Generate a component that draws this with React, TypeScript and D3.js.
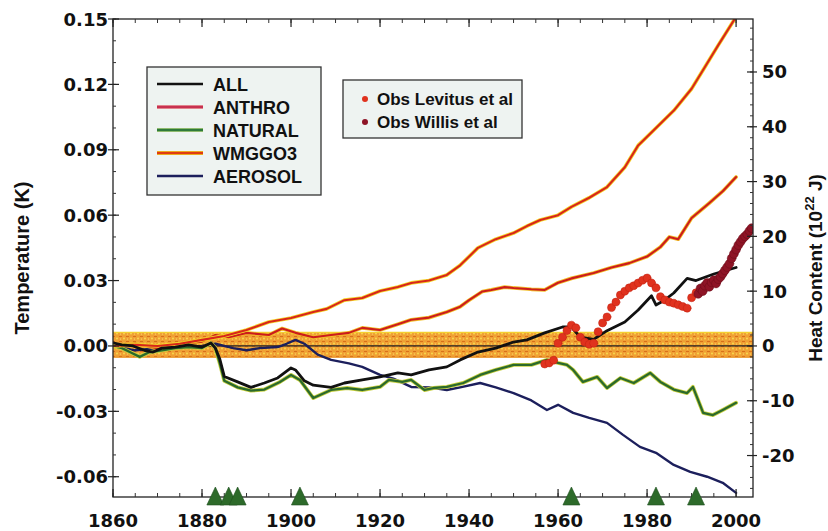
import React from "react";
import * as d3 from "d3";

const W = 828;
const H = 531;

// ---- axes data ----
const xDomain: [number, number] = [1860, 2003.8];
const tempDomain: [number, number] = [-0.0693, 0.15];
const heatPerK = 397.8;
const xTickYears = [1860, 1880, 1900, 1920, 1940, 1960, 1980, 2000];
const xTickLabels = ["1860", "1880", "1900", "1920", "1940", "1960", "1980", "2000"];
const tempTicks = [-0.06, -0.03, 0, 0.03, 0.06, 0.09, 0.12, 0.15];
const tempTickLabels = ["-0.06", "-0.03", "0.00", "0.03", "0.06", "0.09", "0.12", "0.15"];
const heatTicks = [-20, -10, 0, 10, 20, 30, 40, 50];
const heatTickLabels = ["-20", "-10", "0", "10", "20", "30", "40", "50"];
const volcanoYears = [1883, 1886, 1888, 1902, 1963, 1982, 1991];
const bandRange: [number, number] = [-0.0052, 0.0062];

// ---- model series (temperature, K) ----
const allData: [number, number][] = [
  [1860, 0.0014], [1862, 0.0005], [1864.5, 0.0], [1867, -0.002], [1869, -0.0028], [1871, -0.001],
  [1874, -0.0005], [1877, 0.0005], [1880, -0.0005], [1882, 0.0014], [1883, -0.001], [1884, -0.006],
  [1885, -0.014], [1888, -0.0165], [1891, -0.019], [1894, -0.017], [1897, -0.0147], [1900, -0.0101],
  [1901, -0.011], [1903, -0.016], [1905, -0.018], [1909, -0.019], [1912, -0.017], [1916, -0.0156],
  [1920, -0.0142], [1924, -0.0124], [1927, -0.0133], [1931, -0.011], [1935, -0.0096], [1938, -0.0064],
  [1942, -0.0028], [1946, -0.001], [1950, 0.0018], [1953, 0.0028], [1957, 0.006], [1961, 0.0087],
  [1963, 0.0087], [1965, 0.004], [1968, 0.003], [1971, 0.007], [1975, 0.011], [1978, 0.0165],
  [1981, 0.023], [1982, 0.0188], [1984, 0.0211], [1986, 0.0243], [1989, 0.031], [1991, 0.030],
  [1995, 0.033], [2000, 0.036],
];
const anthroData: [number, number][] = [
  [1860, 0.0], [1865, 0.001], [1870, -0.001], [1875, 0.001], [1880, 0.002], [1883, 0.005],
  [1886, 0.004], [1890, 0.006], [1895, 0.005], [1898, 0.008], [1901, 0.006], [1905, 0.004],
  [1909, 0.005], [1913, 0.006], [1916, 0.0083], [1920, 0.0073], [1924, 0.010], [1927, 0.012],
  [1931, 0.013], [1935, 0.0156], [1938, 0.018], [1940, 0.021], [1943, 0.025], [1945, 0.0257],
  [1948, 0.027], [1950, 0.0266], [1954, 0.026], [1957, 0.0257], [1960, 0.029], [1963, 0.031],
  [1968, 0.0335], [1972, 0.036], [1976, 0.038], [1980, 0.041], [1983, 0.0454], [1985, 0.050],
  [1987, 0.049], [1990, 0.0587], [1994, 0.0656], [1997, 0.071], [2000, 0.0775],
];
const naturalData: [number, number][] = [
  [1860, 0.0], [1862, -0.001], [1864, -0.003], [1866, -0.005], [1868, -0.003], [1871, -0.002],
  [1874, -0.001], [1877, -0.0005], [1880, -0.001], [1882, 0.0014], [1883, -0.001], [1884, -0.008],
  [1885, -0.016], [1888, -0.019], [1891, -0.0205], [1894, -0.020], [1897.5, -0.0165], [1900, -0.0133],
  [1902, -0.0156], [1905, -0.0239], [1909, -0.0202], [1912.6, -0.0193], [1916, -0.0202], [1920, -0.0188],
  [1922, -0.0156], [1925, -0.0165], [1927, -0.0156], [1930, -0.0202], [1932, -0.0193], [1935, -0.0188],
  [1938.7, -0.017], [1942.5, -0.0133], [1946, -0.011], [1950, -0.0087], [1954, -0.0087], [1957.5, -0.0064],
  [1960, -0.0078], [1962, -0.0087], [1963.4, -0.011], [1965.6, -0.0165], [1968.8, -0.0142], [1971, -0.0193],
  [1974, -0.0147], [1977, -0.017], [1980.7, -0.0124], [1983, -0.0165], [1986, -0.020], [1989, -0.0216],
  [1990.3, -0.0188], [1992.6, -0.0307], [1994.8, -0.0317], [1997, -0.0294], [2000, -0.0261],
];
const wmggo3Data: [number, number][] = [
  [1860, 0.0], [1865, 0.0005], [1870, 0.0], [1875, 0.001], [1880, 0.0028], [1885, 0.0046],
  [1890, 0.0073], [1895, 0.011], [1900, 0.0128], [1905, 0.0156], [1908, 0.017], [1912, 0.021],
  [1916, 0.022], [1920, 0.0252], [1924, 0.027], [1927, 0.0289], [1931, 0.030], [1935, 0.0326],
  [1938, 0.037], [1942, 0.045], [1946, 0.049], [1950, 0.0518], [1953, 0.055], [1956, 0.0578],
  [1960, 0.060], [1963, 0.0638], [1967, 0.068], [1971, 0.0729], [1975, 0.082], [1978, 0.092],
  [1982, 0.100], [1986, 0.108], [1990, 0.118], [1993, 0.128], [1996, 0.138], [2000, 0.151],
];
const aerosolData: [number, number][] = [
  [1860, 0.0], [1865, -0.002], [1870, -0.001], [1875, -0.001], [1880, 0.0], [1883, 0.001],
  [1887, -0.001], [1890, -0.002], [1893, -0.001], [1897, -0.0005], [1899, 0.001], [1901, 0.0028],
  [1903, 0.001], [1906, -0.004], [1909, -0.0064], [1913, -0.008], [1916, -0.0096], [1920, -0.0133],
  [1923, -0.015], [1927, -0.0188], [1931, -0.019], [1935, -0.0202], [1938, -0.019], [1942.5, -0.017],
  [1946, -0.019], [1950, -0.0216], [1954, -0.025], [1957.5, -0.0294], [1960, -0.027], [1963.4, -0.0307],
  [1967, -0.033], [1971, -0.0353], [1974.6, -0.0408], [1978.4, -0.0463], [1982, -0.049], [1986, -0.0546],
  [1989.7, -0.0578], [1993.5, -0.060], [1997, -0.0628], [2000, -0.0674],
];

// ---- observations (heat content, 10^22 J) ----
const levitusData: [number, number][] = [
  [1957, -3.3], [1958, -3.1], [1959, -2.6], [1960, 0.5], [1961, 1.6], [1962, 2.8], [1963, 3.8],
  [1964, 3.3], [1965, 1.6], [1966, 0.7], [1967, 0.3], [1968, 0.5], [1969, 2.6], [1970, 4.2],
  [1971, 5.3], [1972, 7.0], [1973, 8.0], [1974, 9.3], [1975, 10.0], [1976, 10.6], [1977, 11.0],
  [1978, 11.5], [1979, 12.0], [1980, 12.4], [1981, 11.5], [1982, 10.6], [1983, 9.0], [1984, 8.4],
  [1985, 8.0], [1986, 7.8], [1987, 7.5], [1988, 7.2], [1989, 6.9], [1990, 8.8], [1991, 9.7],
];
const willisData: [number, number][] = [
  [1991.5, 9.5], [1992, 10.5], [1992.5, 10.0], [1993, 11.0], [1993.5, 11.5], [1994, 10.8],
  [1994.5, 11.6], [1995, 12.0], [1995.5, 11.4], [1996, 12.2], [1996.5, 12.6], [1997, 13.2],
  [1997.5, 13.8], [1998, 14.4], [1998.5, 15.0], [1999, 16.0], [1999.5, 16.8], [2000, 17.6],
  [2000.5, 18.4], [2001, 19.0], [2001.5, 19.6], [2002, 20.0], [2002.5, 20.4], [2003, 21.0],
  [2003.5, 21.5],
];

const legendNames = ["ALL", "ANTHRO", "NATURAL", "WMGGO3", "AEROSOL"];
const obsNames = ["Obs Levitus et al", "Obs Willis et al"];

export default function App() {
  const L = 113, R = 753, T = 19, B = 497;
  const x = d3.scaleLinear().domain(xDomain).range([L, R]);
  const yT = d3.scaleLinear().domain(tempDomain).range([B, T]);
  const yH = d3.scaleLinear().domain([tempDomain[0] * heatPerK, tempDomain[1] * heatPerK]).range([B, T]);
  const line = d3.line<[number, number]>().x((d) => x(d[0])).y((d) => yT(d[1]));

  const tickFont = "'DejaVu Sans', sans-serif";
  const labFont = "'Liberation Sans', Arial, sans-serif";

  const minorTemp = d3.range(-6, 16).map((i) => i / 100);
  const minorHeat = d3.range(-26, 60, 2);
  const minorX = d3.range(1860, 2004, 5);

  const series = [
    { name: "AEROSOL", data: aerosolData, halo: null, color: "#1c1f5c", w: 2.4 },
    { name: "NATURAL", data: naturalData, halo: "#c8d040", color: "#2b6a2c", w: 2.3 },
    { name: "ANTHRO", data: anthroData, halo: "#f2c028", color: "#cc1c1c", w: 2.1 },
    { name: "WMGGO3", data: wmggo3Data, halo: "#f4d428", color: "#d8261a", w: 2.1 },
    { name: "ALL", data: allData, halo: null, color: "#111111", w: 2.8 },
  ];
  const legendStyle: Record<string, { c: string; h: string | null }> = {
    ALL: { c: "#111", h: null },
    ANTHRO: { c: "#c83050", h: "#e8a0a0" },
    NATURAL: { c: "#2f7a3a", h: "#b0d080" },
    WMGGO3: { c: "#e03a10", h: "#f0d020" },
    AEROSOL: { c: "#1c1f5c", h: null },
  };

  return (
    <svg width={W} height={H} style={{ position: "absolute", left: 0, top: 0, background: "#fff" }}>
      <defs>
        <clipPath id="plot">
          <rect x={L} y={T} width={R - L} height={B - T} />
        </clipPath>
        <pattern id="bandPat" width="7" height="5" patternUnits="userSpaceOnUse">
          <rect width="7" height="5" fill="#f0a034" />
          <rect x="0" y="1" width="3" height="1" fill="#d8701a" />
          <circle cx="5" cy="3.5" r="0.9" fill="#f8e050" />
          <circle cx="1.5" cy="4" r="0.6" fill="#fbe870" />
        </pattern>
      </defs>

      {/* band */}
      <rect x={L} y={yT(bandRange[1])} width={R - L} height={yT(bandRange[0]) - yT(bandRange[1])} fill="url(#bandPat)" />
      <line x1={L} x2={R} y1={yT(bandRange[1])} y2={yT(bandRange[1])} stroke="#f4d030" strokeWidth={1.2} />
      <line x1={L} x2={R} y1={yT(bandRange[0])} y2={yT(bandRange[0])} stroke="#e89020" strokeWidth={1} />
      <line x1={L} x2={R} y1={yT(0)} y2={yT(0)} stroke="#222" strokeWidth={1.2} />

      <g clipPath="url(#plot)" fill="none" strokeLinejoin="round" strokeLinecap="round">
        {series.map((s) => (
          <g key={s.name}>
            {s.halo && <path d={line(s.data) || ""} stroke={s.halo} strokeWidth={s.w + 1.6} />}
            <path d={line(s.data) || ""} stroke={s.color} strokeWidth={s.w} />
          </g>
        ))}
        {levitusData.map((d, i) => (
          <circle key={"l" + i} cx={x(d[0])} cy={yH(d[1])} r={4} fill="#e0321e" stroke="#c02010" strokeWidth={0.5} />
        ))}
        {willisData.map((d, i) => (
          <circle key={"w" + i} cx={x(d[0])} cy={yH(d[1])} r={4.4} fill="#8e1426" stroke="#6a0c18" strokeWidth={0.5} />
        ))}
      </g>

      {/* frame */}
      <rect x={L} y={T} width={R - L} height={B - T} fill="none" stroke="#222" strokeWidth={1.3} />

      {/* left ticks */}
      {minorTemp.map((v, i) => (
        <line key={"mt" + i} x1={L} x2={L + 3} y1={yT(v)} y2={yT(v)} stroke="#333" strokeWidth={1} />
      ))}
      {tempTicks.map((v, i) => (
        <g key={"t" + i}>
          <line x1={L - 5} x2={L + 6} y1={yT(v)} y2={yT(v)} stroke="#222" strokeWidth={1.2} />
          <text x={108} y={yT(v) + 6.5} textAnchor="end" fontFamily={tickFont} fontWeight="bold" fontSize={18} fill="#111">
            {tempTickLabels[i]}
          </text>
        </g>
      ))}

      {/* right ticks */}
      {minorHeat.map((v, i) => (
        <line key={"mh" + i} x1={R - 3} x2={R} y1={yH(v)} y2={yH(v)} stroke="#333" strokeWidth={1} />
      ))}
      {heatTicks.map((v, i) => (
        <g key={"h" + i}>
          <line x1={R - 6} x2={R + 4} y1={yH(v)} y2={yH(v)} stroke="#222" strokeWidth={1.2} />
          <text x={762} y={yH(v) + 6.5} textAnchor="start" fontFamily={tickFont} fontWeight="bold" fontSize={18} fill="#111">
            {heatTickLabels[i]}
          </text>
        </g>
      ))}

      {/* x ticks */}
      {minorX.map((v, i) => (
        <g key={"mx" + i}>
          <line x1={x(v)} x2={x(v)} y1={B} y2={B - 4} stroke="#333" strokeWidth={1} />
          <line x1={x(v)} x2={x(v)} y1={T} y2={T + 4} stroke="#333" strokeWidth={1} />
        </g>
      ))}
      {xTickYears.map((v, i) => (
        <g key={"x" + i}>
          <line x1={x(v)} x2={x(v)} y1={B} y2={B - 8} stroke="#222" strokeWidth={1.2} />
          <line x1={x(v)} x2={x(v)} y1={T} y2={T + 8} stroke="#222" strokeWidth={1.2} />
          <text x={x(v)} y={527} textAnchor="middle" fontFamily={tickFont} fontWeight="bold" fontSize={18} fill="#111">
            {xTickLabels[i]}
          </text>
        </g>
      ))}

      {/* volcano triangles */}
      {volcanoYears.map((v, i) => (
        <path
          key={"v" + i}
          d={`M${x(v) - 8.5},${505} L${x(v) + 8.5},${505} L${x(v)},${487} Z`}
          fill="#2d6a2a"
          stroke="#1f4f1e"
          strokeWidth={0.6}
        />
      ))}

      {/* axis titles */}
      <text
        transform={`translate(29,258) rotate(-90)`}
        textAnchor="middle"
        fontFamily={labFont}
        fontWeight="bold"
        fontSize={20}
        fill="#111"
      >
        Temperature (K)
      </text>
      <text
        transform={`translate(822,268) rotate(-90)`}
        textAnchor="middle"
        fontFamily={labFont}
        fontWeight="bold"
        fontSize={19}
        fill="#111"
      >
        Heat Content (10
        <tspan dy={-8} fontSize={13}>22</tspan>
        <tspan dy={8}> J)</tspan>
      </text>

      {/* legend 1 */}
      <rect x={147} y={67} width={174} height={128} fill="#eef3f1" stroke="#333" strokeWidth={1.3} />
      {legendNames.map((n, i) => {
        const yy = 84 + i * 23;
        const st = legendStyle[n];
        return (
          <g key={n}>
            {st.h && <line x1={157} x2={203} y1={yy} y2={yy} stroke={st.h} strokeWidth={4} />}
            <line x1={157} x2={203} y1={yy} y2={yy} stroke={st.c} strokeWidth={2.4} />
            <text x={213} y={yy + 6.5} fontFamily={labFont} fontWeight="bold" fontSize={18} fill="#111">
              {n}
            </text>
          </g>
        );
      })}

      {/* legend 2 */}
      <rect x={343} y={80} width={179} height={58} fill="#eef3f1" stroke="#333" strokeWidth={1.3} />
      {obsNames.map((n, i) => {
        const yy = 99 + i * 23;
        return (
          <g key={n}>
            <circle cx={365} cy={yy} r={3} fill={i === 0 ? "#e0321e" : "#8e1426"} />
            <text x={377} y={yy + 6} fontFamily={labFont} fontWeight="bold" fontSize={17} fill="#111">
              {n}
            </text>
          </g>
        );
      })}
    </svg>
  );
}
